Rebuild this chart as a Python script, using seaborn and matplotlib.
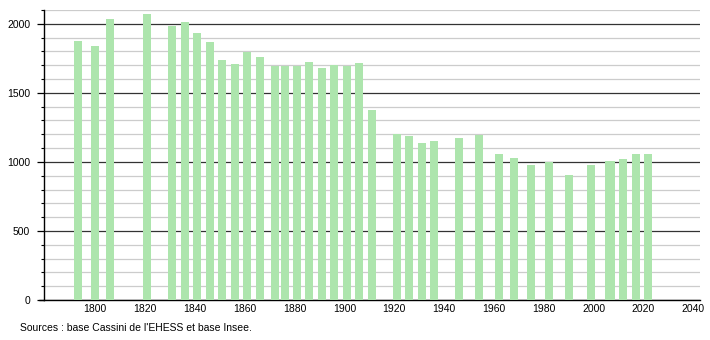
import matplotlib
matplotlib.use("Agg")
import matplotlib.pyplot as plt
import seaborn as sns
import pandas as pd
from matplotlib.ticker import MultipleLocator
from matplotlib.lines import Line2D

years = [1793, 1800, 1806, 1821, 1831, 1836, 1841, 1846, 1851, 1856, 1861, 1866,
         1872, 1876, 1881, 1886, 1891, 1896, 1901, 1906, 1911, 1921, 1926, 1931,
         1936, 1946, 1954, 1962, 1968, 1975, 1982, 1990, 1999, 2006, 2007, 2012,
         2017, 2022]
population = [1877, 1841, 2036, 2072, 1981, 2014, 1935, 1870, 1741, 1712, 1797, 1763,
              1696, 1696, 1696, 1725, 1679, 1703, 1695, 1718, 1377, 1203, 1191, 1135,
              1152, 1174, 1193, 1058, 1028, 978, 998, 906, 978, 1007, 1007, 1019,
              1058, 1058]
xticks = list(range(1800, 2041, 20))
yticks = [0, 500, 1000, 1500, 2000]
source_text = "Sources : base Cassini de l'EHESS et base Insee."

df = pd.DataFrame({"year": years, "pop": population})

sns.set_style("white")
plt.rcParams["font.family"] = ["Liberation Sans", "DejaVu Sans"]
plt.rcParams["text.color"] = "black"
plt.rcParams["xtick.color"] = "black"
plt.rcParams["ytick.color"] = "black"

fig = plt.figure(figsize=(7.1, 3.4), dpi=100)
ax = fig.add_axes([44 / 710, 40 / 340, 656 / 710, 290 / 340])

sns.barplot(data=df, x="year", y="pop", native_scale=True, width=3.2,
            color="#ade5ad", saturation=1, errorbar=None, linewidth=0, ax=ax, zorder=3)

ax.set_xlim(1779.5, 2042.7)
ax.set_ylim(0, 2100)
ax.set_xticks(xticks)
ax.set_xticklabels([str(t) for t in xticks])
ax.set_yticks(yticks)
ax.yaxis.set_minor_locator(MultipleLocator(100))

ax.grid(which="minor", axis="y", color="#cccccc", linewidth=0.9, zorder=0)
ax.grid(which="major", axis="y", color="#333333", linewidth=0.9, zorder=1)
ax.grid(which="major", axis="x", visible=False)
ax.set_axisbelow(True)

for s in ["top", "right"]:
    ax.spines[s].set_visible(False)
for s in ["left", "bottom"]:
    ax.spines[s].set_color("black")
    ax.spines[s].set_linewidth(1)

ax.tick_params(axis="y", which="major", length=5, width=0.9, color="black",
               labelcolor="black", labelsize=7.5, pad=5, left=True)
ax.tick_params(axis="y", which="minor", length=2, width=0.8, color="black", left=True)
ax.tick_params(axis="x", which="both", length=0, labelsize=7.5, pad=3,
               labelcolor="black")
ax.set_xlabel("")
ax.set_ylabel("")

# small extension of the x axis line to the left of the y axis
fig.add_artist(Line2D([39 / 710, 44 / 710], [40 / 340, 40 / 340],
                      color="black", linewidth=1))

fig.text(20 / 710, 1 - 328 / 340, source_text, fontsize=7.5, va="center",
         ha="left", color="black")

fig.savefig("out.png", dpi=100)
